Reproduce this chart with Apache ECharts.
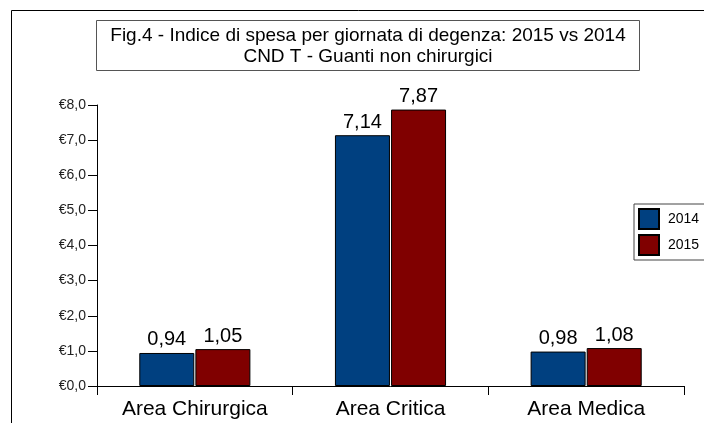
<!DOCTYPE html>
<html><head><meta charset="utf-8">
<script src="https://cdn.jsdelivr.net/npm/echarts@6/dist/echarts.min.js"></script>
<style>html,body{margin:0;padding:0;background:#fff}#c{width:704px;height:423px}</style>
</head><body><div id="c"></div>
<script>
const categories = ['Area Chirurgica', 'Area Critica', 'Area Medica'];
const values2014 = [0.94, 7.14, 0.98];
const values2015 = [1.05, 7.87, 1.08];
const seriesNames = ['2014', '2015'];
const titleLines = ['Fig.4 - Indice di spesa per giornata di degenza: 2015 vs 2014', 'CND T - Guanti non chirurgici'];

const chart = echarts.init(document.getElementById('c'), null, {renderer: 'canvas'});
const fmt = v => v.toFixed(2).replace('.', ',');
const font = 'Arial, "Liberation Sans", sans-serif';
chart.setOption({
  animation: false,
  textStyle: {fontFamily: font},
  graphic: [
    {type: 'rect', shape: {x: 11.5, y: 10.5, width: 900, height: 600}, style: {fill: 'none', stroke: '#000', lineWidth: 1}, silent: true},
    {type: 'rect', shape: {x: 96.5, y: 20.5, width: 543, height: 50}, style: {fill: '#fff', stroke: '#555', lineWidth: 1}, silent: true}
  ],
  title: {
    text: titleLines.join('\n'),
    left: 368, top: 25, textAlign: 'center', padding: 0,
    textStyle: {fontSize: 19, fontWeight: 'normal', color: '#000', lineHeight: 21, fontFamily: font}
  },
  legend: {
    orient: 'vertical', left: 634, top: 204,
    itemWidth: 20, itemHeight: 20, itemGap: 4, icon: 'rect',
    padding: [4, 10, 4, 4],
    borderColor: '#444', borderWidth: 1,
    textStyle: {fontSize: 14, color: '#000', padding: [0, 0, 0, 4], fontFamily: font},
    data: seriesNames
  },
  grid: {left: 97, right: 20, top: 105, bottom: 37, containLabel: false},
  xAxis: {
    type: 'category', data: categories,
    axisLine: {lineStyle: {color: '#000', width: 1}},
    axisTick: {show: true, length: 9, inside: false, lineStyle: {color: '#000'}},
    axisLabel: {fontSize: 21, color: '#000', margin: 13, fontFamily: font}
  },
  yAxis: {
    type: 'value', min: 0, max: 8, interval: 1,
    splitLine: {show: false},
    axisLine: {show: true, lineStyle: {color: '#000', width: 1}},
    axisTick: {show: true, length: 9, lineStyle: {color: '#000'}},
    axisLabel: {fontSize: 14, color: '#222', margin: 11, formatter: v => '€' + v.toFixed(1).replace('.', ','), fontFamily: font}
  },
  series: [
    {name: seriesNames[0], type: 'bar', data: values2014, barWidth: 55, barGap: '2%',
     itemStyle: {color: '#004080', borderColor: '#000', borderWidth: 1},
     label: {show: true, position: 'top', distance: 3, fontSize: 20, color: '#000', formatter: p => fmt(p.value), fontFamily: font}},
    {name: seriesNames[1], type: 'bar', data: values2015, barWidth: 55, barGap: '2%',
     itemStyle: {color: '#800000', borderColor: '#000', borderWidth: 1},
     label: {show: true, position: 'top', distance: 3, fontSize: 20, color: '#000', formatter: p => fmt(p.value), fontFamily: font}}
  ]
});
</script></body></html>
